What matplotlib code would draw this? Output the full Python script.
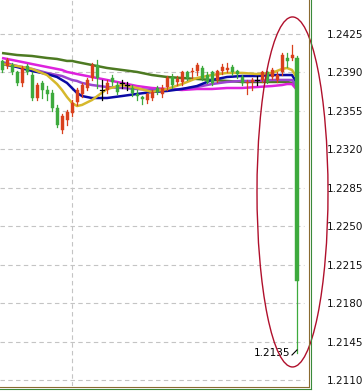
import matplotlib
matplotlib.use("Agg")
import matplotlib.pyplot as plt
from matplotlib.patches import Ellipse, Rectangle
from matplotlib.lines import Line2D

# ---------------- data ----------------
opens = [1.2400, 1.2396, 1.2397, 1.2390, 1.2380, 1.2396, 1.2388, 1.2367, 1.2380, 1.2374,
         1.2371, 1.2358, 1.2338, 1.2347, 1.2353, 1.2363, 1.2370, 1.2376, 1.2385, 1.2397,
         1.2374, 1.2374, 1.2385, 1.2379, 1.2380, 1.2379, 1.2376, 1.2370, 1.2368, 1.2365,
         1.2367, 1.2376, 1.2370, 1.2377, 1.2386, 1.2381, 1.2381, 1.2390, 1.2390, 1.2391,
         1.2394, 1.2388, 1.2390, 1.2383, 1.2391, 1.2392, 1.2395, 1.2391, 1.2386, 1.2380,
         1.2381, 1.2383, 1.2383, 1.2390, 1.2386, 1.2383, 1.2390, 1.2403, 1.2403, 1.2403]
highs = [1.2401, 1.2403, 1.2399, 1.2391, 1.2396, 1.2398, 1.2390, 1.2380, 1.2382, 1.2378,
         1.2374, 1.2360, 1.2352, 1.2356, 1.2365, 1.2376, 1.2380, 1.2385, 1.2399, 1.2401,
         1.2383, 1.2383, 1.2388, 1.2381, 1.2383, 1.2381, 1.2379, 1.2374, 1.2369, 1.2371,
         1.2374, 1.2378, 1.2379, 1.2387, 1.2389, 1.2387, 1.2391, 1.2391, 1.2394, 1.2399,
         1.2396, 1.2390, 1.2391, 1.2392, 1.2398, 1.2399, 1.2397, 1.2392, 1.2388, 1.2383,
         1.2385, 1.2387, 1.2391, 1.2391, 1.2394, 1.2390, 1.2408, 1.2408, 1.2415, 1.2405]
lows = [1.2390, 1.2394, 1.2389, 1.2379, 1.2378, 1.2389, 1.2365, 1.2365, 1.2367, 1.2365,
        1.2355, 1.2340, 1.2335, 1.2342, 1.2350, 1.2360, 1.2368, 1.2374, 1.2383, 1.2376,
        1.2365, 1.2371, 1.2379, 1.2370, 1.2376, 1.2374, 1.2369, 1.2365, 1.2361, 1.2362,
        1.2365, 1.2370, 1.2368, 1.2374, 1.2376, 1.2379, 1.2379, 1.2383, 1.2385, 1.2388,
        1.2383, 1.2380, 1.2379, 1.2381, 1.2389, 1.2390, 1.2388, 1.2385, 1.2379, 1.2370,
        1.2374, 1.2379, 1.2381, 1.2380, 1.2384, 1.2381, 1.2388, 1.2395, 1.2401, 1.2135]
closes = [1.2392, 1.2401, 1.2390, 1.2380, 1.2394, 1.2390, 1.2367, 1.2379, 1.2374, 1.2370,
          1.2358, 1.2342, 1.2350, 1.2354, 1.2362, 1.2374, 1.2379, 1.2383, 1.2397, 1.2385,
          1.2374, 1.2380, 1.2381, 1.2372, 1.2380, 1.2379, 1.2371, 1.2369, 1.2366, 1.2370,
          1.2372, 1.2372, 1.2376, 1.2385, 1.2379, 1.2384, 1.2390, 1.2385, 1.2391, 1.2397,
          1.2385, 1.2381, 1.2380, 1.2391, 1.2395, 1.2394, 1.2390, 1.2389, 1.2380, 1.2381,
          1.2383, 1.2383, 1.2390, 1.2381, 1.2392, 1.2388, 1.2406, 1.2400, 1.2406, 1.2200]

ma_index = [0, 3, 6, 9, 11, 12, 13, 14, 15, 16, 18, 21, 24, 27, 30, 33, 36, 39, 42, 45,
            48, 51, 54, 56, 57, 58, 59]
ma_olive = [1.24077, 1.24059, 1.24050, 1.24032, 1.24023, 1.24014, 1.24005, 1.24005, 1.23995,
            1.23986, 1.23968, 1.23941, 1.23923, 1.23905, 1.23877, 1.23859, 1.23850, 1.23841,
            1.23832, 1.23823, 1.23814, 1.23814, 1.23814, 1.23814, 1.23814, 1.23805, 1.23768]
ma_magenta = [1.24032, 1.24005, 1.23977, 1.23950, 1.23932, 1.23923, 1.23905, 1.23896, 1.23886,
              1.23877, 1.23859, 1.23832, 1.23805, 1.23777, 1.23759, 1.23750, 1.23741, 1.23750,
              1.23750, 1.23759, 1.23759, 1.23768, 1.23777, 1.23786, 1.23795, 1.23795, 1.23741]
ma_purple = [1.23995, 1.23959, 1.23932, 1.23896, 1.23877, 1.23868, 1.23850, 1.23832, 1.23823,
             1.23805, 1.23786, 1.23768, 1.23759, 1.23750, 1.23741, 1.23741, 1.23750, 1.23768,
             1.23795, 1.23814, 1.23823, 1.23823, 1.23832, 1.23832, 1.23832, 1.23832, 1.23768]
ma_navy = [1.23977, 1.23950, 1.23914, 1.23886, 1.23859, 1.23832, 1.23805, 1.23759, 1.23714,
           1.23686, 1.23668, 1.23668, 1.23686, 1.23705, 1.23723, 1.23732, 1.23750, 1.23777,
           1.23832, 1.23859, 1.23868, 1.23868, 1.23877, 1.23877, 1.23877, 1.23877, 1.23805]
ma_gold = [1.23977, 1.23959, 1.23932, 1.23877, 1.23795, 1.23741, 1.23677, 1.23623, 1.23595,
           1.23605, 1.23650, 1.23750, 1.23786, 1.23759, 1.23723, 1.23750, 1.23795, 1.23850,
           1.23877, 1.23896, 1.23896, 1.23886, 1.23896, 1.23932, 1.23941, 1.23923, 1.23850]

price_ticks = [1.2425, 1.2390, 1.2355, 1.2320, 1.2285, 1.2250, 1.2215, 1.2180, 1.2145, 1.2110]
tick_labels = ["1.2425", "1.2390", "1.2355", "1.2320", "1.2285", "1.2250",
               "1.2215", "1.2180", "1.2145", "1.2110"]
low_label = "1.2135"
low_value = 1.2135

# ---------------- figure ----------------
W, H = 363, 392
fig = plt.figure(figsize=(W / 100, H / 100), dpi=100)
fig.patch.set_facecolor("white")
ax = fig.add_axes([0, 6 / H, 309 / W, 386 / H])
ax.set_facecolor("white")
ax.set_xlim(-0.4, 61.4)
ax.set_ylim(1.2105, 1.24559)

GREEN = "#3daa3d"
RED = "#d9401c"

# grid
for p in price_ticks:
    ax.axhline(p, xmin=0, xmax=0.985, color="#c4c4c4", lw=0.8, ls=(0, (4, 3)), zorder=0)
ax.axvline(14, color="#c4c4c4", lw=0.8, ls=(0, (4, 3)), zorder=0)

# moving averages
for vals, col in [(ma_olive, "#4d7a22"), (ma_magenta, "#dd22dd"), (ma_purple, "#9a44d0"),
                  (ma_navy, "#0a0aa5"), (ma_gold, "#d6b82c")]:
    ax.plot(ma_index, vals, color=col, lw=1.8, zorder=2, solid_capstyle="butt")

# candles
for i, (o, h, l, c) in enumerate(zip(opens, highs, lows, closes)):
    if c < o:
        col = GREEN
    elif c > o:
        col = RED
    else:
        col = "black"
    ax.plot([i, i], [l, h], color=col, lw=0.9, zorder=3)
    bw = 0.75 if i == len(opens) - 1 else 0.6
    bot = min(o, c)
    ht = abs(c - o)
    if ht == 0:
        ax.plot([i - 0.4, i + 0.4], [o, o], color=col, lw=0.9, zorder=3)
    else:
        ax.add_patch(Rectangle((i - bw / 2, bot), bw, ht, facecolor=col,
                               edgecolor=col, lw=0.3, zorder=3))

# low label
ax.plot([58, 59], [1.21332, 1.21378], color="black", lw=0.8, zorder=4)
ax.text(57.6, low_value, low_label, ha="right", va="center", fontsize=7.5,
        color="black", zorder=4)

# ellipse annotation
ax.add_patch(Ellipse((58.1, 1.22814), 14.2, 0.03182, fill=False,
                     edgecolor="#b0102c", lw=1.0, clip_on=False, zorder=5))

# axes styling
for s in ax.spines.values():
    s.set_visible(False)
ax.set_xticks([])
ax.yaxis.tick_right()
ax.set_yticks(price_ticks)
ax.set_yticklabels(tick_labels)
ax.tick_params(axis="y", length=0, pad=13, labelsize=7.5, labelcolor="#111111")

# double frame lines (figure pixels)
def fx(px):
    return px / W

def fy(py):
    return 1 - py / H

fig.add_artist(Line2D([fx(308.5), fx(308.5)], [fy(0), fy(386.5)], color="#8a6a30", lw=0.8))
fig.add_artist(Line2D([fx(0), fx(308.5)], [fy(386.5), fy(386.5)], color="#8a6a30", lw=0.8))
fig.add_artist(Line2D([fx(311), fx(311)], [fy(0), fy(389)], color="#3a8a3a", lw=0.8))
fig.add_artist(Line2D([fx(0), fx(311)], [fy(389), fy(389)], color="#3a8a3a", lw=0.8))

fig.savefig("out.png", dpi=100, facecolor="white")
